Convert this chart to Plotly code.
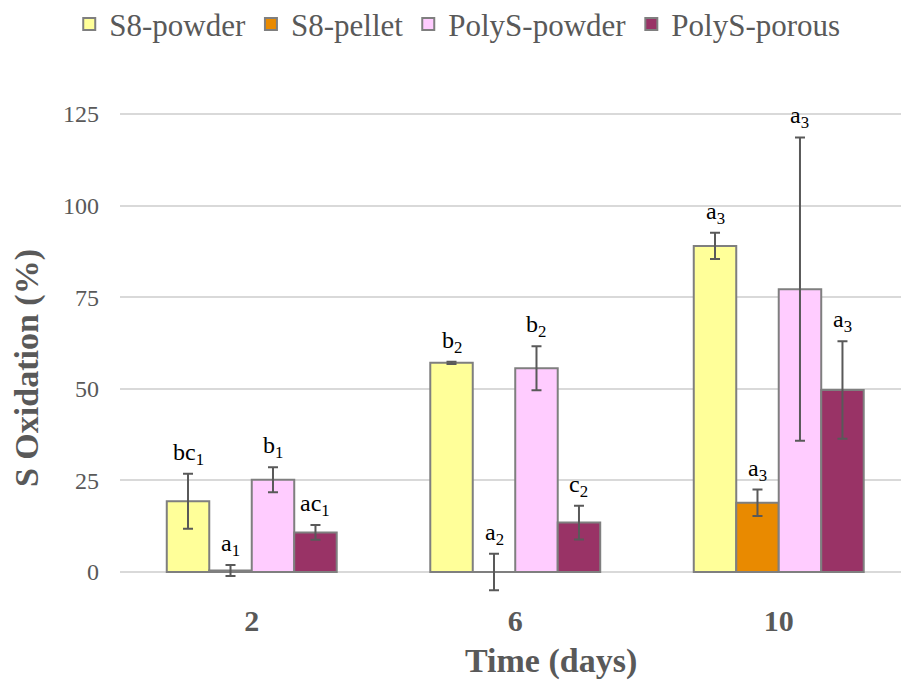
import plotly.graph_objects as go

# Sampling days and treatments
days = ["2", "6", "10"]
series_names = ["S8-powder", "S8-pellet", "PolyS-powder", "PolyS-porous"]

# Mean S oxidation (%) per treatment and day
s8_powder = [19.3, 57.1, 89.0]
s8_pellet = [0.4, 0.0, 18.9]
polys_powder = [25.2, 55.6, 77.2]
polys_porous = [10.8, 13.5, 49.7]

# Standard deviations
s8_powder_err = [7.5, 0.3, 3.6]
s8_pellet_err = [1.5, 5.0, 3.6]
polys_powder_err = [3.4, 6.0, 41.4]
polys_porous_err = [2.0, 4.6, 13.3]

# Significance letters (letter, day index subscript)
s8_powder_sig = ["bc", "b", "a"]
s8_pellet_sig = ["a", "a", "a"]
polys_powder_sig = ["b", "b", "a"]
polys_porous_sig = ["ac", "c", "a"]
sig_sub = ["1", "2", "3"]

colors = ["#FFFF99", "#E98A00", "#FFCCFF", "#993366"]
means = [s8_powder, s8_pellet, polys_powder, polys_porous]
errs = [s8_powder_err, s8_pellet_err, polys_powder_err, polys_porous_err]
sigs = [s8_powder_sig, s8_pellet_sig, polys_powder_sig, polys_porous_sig]

SERIF = "'Times New Roman', 'Liberation Serif', Times, serif"
GREY = "#595959"
BARGAP = 0.355

fig = go.Figure()
for name, vals, err, col in zip(series_names, means, errs, colors):
    fig.add_trace(go.Bar(
        name=name, x=days, y=vals,
        marker=dict(color=col, line=dict(color="#7F7F7F", width=2)),
        error_y=dict(type="data", array=err, visible=True,
                     color=GREY, thickness=2, width=5),
    ))

# Letters above each error bar
n = len(series_names)
bw = (1 - BARGAP) / n
annotations = []
for i, (vals, err, sig) in enumerate(zip(means, errs, sigs)):
    offset = (i - (n - 1) / 2) * bw
    for j in range(len(days)):
        annotations.append(dict(
            x=j + offset, y=vals[j] + err[j], xref="x", yref="y",
            text=f"{sig[j]}<sub>{sig_sub[j]}</sub>",
            showarrow=False, yanchor="bottom", yshift=3,
            font=dict(family=SERIF, size=24, color="black"),
        ))

# Axis titles
annotations.append(dict(
    text="<b>Time (days)</b>", xref="paper", yref="paper",
    x=0.552, y=-0.113, showarrow=False, xanchor="center", yanchor="middle",
    font=dict(family=SERIF, size=34, color=GREY),
))
annotations.append(dict(
    text="<b>S Oxidation (%)</b>", xref="paper", yref="paper",
    x=-0.119, y=0.4296, showarrow=False, xanchor="center", yanchor="middle",
    textangle=-90,
    font=dict(family=SERIF, size=34, color=GREY),
))

fig.update_layout(
    width=901, height=681,
    margin=dict(l=120, r=0, t=60, b=81, autoexpand=False),
    paper_bgcolor="white", plot_bgcolor="white",
    barmode="group", bargap=BARGAP, bargroupgap=0,
    showlegend=True,
    legend=dict(
        orientation="h", x=-0.065, xanchor="left", y=1.116, yanchor="top",
        font=dict(family=SERIF, size=31, color=GREY),
        itemsizing="constant", traceorder="normal",
    ),
    annotations=annotations,
    xaxis=dict(
        type="category", range=[-0.5, 2.464],
        showgrid=False, zeroline=False, showline=False, ticks="",
        tickfont=dict(family=SERIF, size=30, color=GREY, weight="bold"),
    ),
    yaxis=dict(
        range=[-7.64, 139.74],
        tickvals=[0, 25, 50, 75, 100, 125],
        showgrid=True, gridcolor="#D9D9D9", gridwidth=2,
        zeroline=True, zerolinecolor="#D9D9D9", zerolinewidth=2,
        showline=False, ticks="", ticklabelstandoff=20,
        tickfont=dict(family=SERIF, size=24, color=GREY),
    ),
)

fig.write_html("out.html")
